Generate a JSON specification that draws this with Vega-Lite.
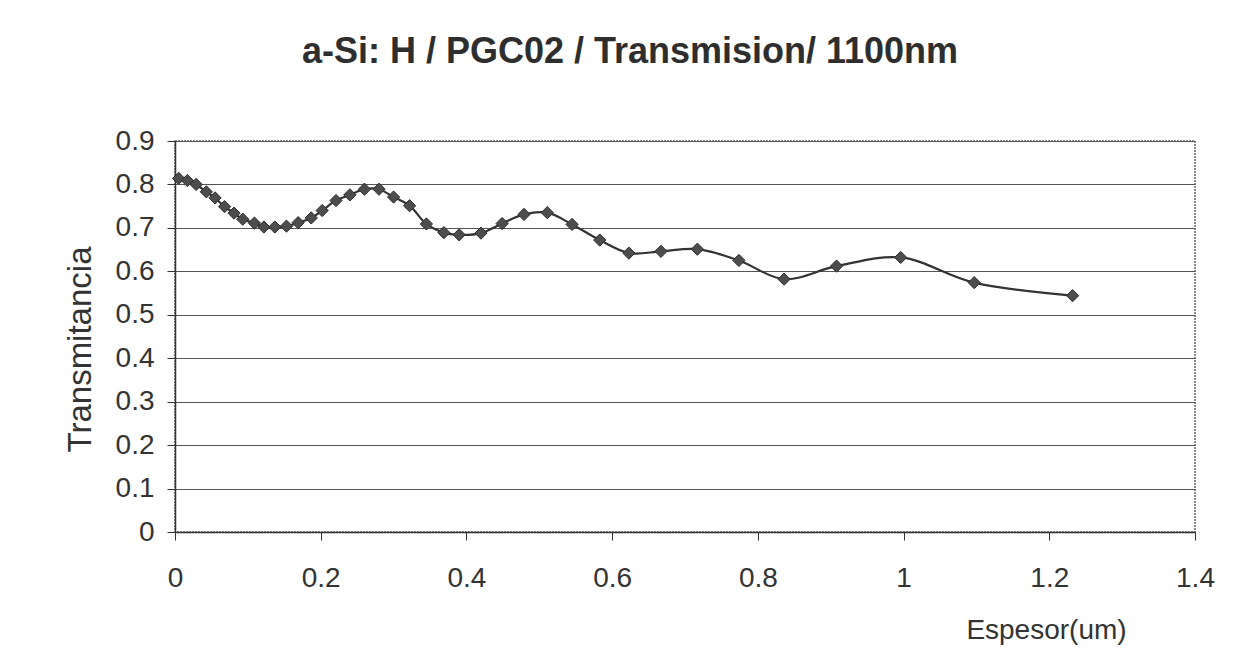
{
  "$schema": "https://vega.github.io/schema/vega-lite/v6.json",
  "width": 1020,
  "height": 391,
  "autosize": {"type": "none"},
  "padding": {"left": 175, "top": 141, "right": 47, "bottom": 133},
  "background": "white",
  "title": {
    "text": "a-Si: H / PGC02 / Transmision/ 1100nm",
    "font": "Liberation Sans",
    "fontSize": 36,
    "fontWeight": "bold",
    "color": "#2e2e2e",
    "anchor": "middle",
    "frame": "group",
    "baseline": "alphabetic",
    "offset": 28,
    "dx": -55
  },
  "config": {
    "font": "Liberation Sans",
    "view": {"stroke": "#666666", "strokeWidth": 1.5, "strokeDash": [2, 1]}
  },
  "data": {
    "values": [
      {"espesor": 0.005, "transmitancia": 0.814},
      {"espesor": 0.017, "transmitancia": 0.809},
      {"espesor": 0.029, "transmitancia": 0.800},
      {"espesor": 0.043, "transmitancia": 0.783},
      {"espesor": 0.055, "transmitancia": 0.769},
      {"espesor": 0.068, "transmitancia": 0.749},
      {"espesor": 0.081, "transmitancia": 0.734},
      {"espesor": 0.093, "transmitancia": 0.720},
      {"espesor": 0.109, "transmitancia": 0.711},
      {"espesor": 0.122, "transmitancia": 0.702},
      {"espesor": 0.137, "transmitancia": 0.702},
      {"espesor": 0.153, "transmitancia": 0.704},
      {"espesor": 0.169, "transmitancia": 0.712},
      {"espesor": 0.187, "transmitancia": 0.723},
      {"espesor": 0.202, "transmitancia": 0.740},
      {"espesor": 0.221, "transmitancia": 0.763},
      {"espesor": 0.240, "transmitancia": 0.776},
      {"espesor": 0.260, "transmitancia": 0.789},
      {"espesor": 0.280, "transmitancia": 0.789},
      {"espesor": 0.300, "transmitancia": 0.771},
      {"espesor": 0.322, "transmitancia": 0.751},
      {"espesor": 0.345, "transmitancia": 0.709},
      {"espesor": 0.369, "transmitancia": 0.689},
      {"espesor": 0.390, "transmitancia": 0.684},
      {"espesor": 0.420, "transmitancia": 0.688},
      {"espesor": 0.449, "transmitancia": 0.710},
      {"espesor": 0.479, "transmitancia": 0.731},
      {"espesor": 0.511, "transmitancia": 0.735},
      {"espesor": 0.545, "transmitancia": 0.708},
      {"espesor": 0.583, "transmitancia": 0.672},
      {"espesor": 0.623, "transmitancia": 0.642},
      {"espesor": 0.667, "transmitancia": 0.646},
      {"espesor": 0.717, "transmitancia": 0.651},
      {"espesor": 0.774, "transmitancia": 0.625},
      {"espesor": 0.836, "transmitancia": 0.582},
      {"espesor": 0.908, "transmitancia": 0.612},
      {"espesor": 0.996, "transmitancia": 0.632},
      {"espesor": 1.097, "transmitancia": 0.574},
      {"espesor": 1.232, "transmitancia": 0.544}
    ]
  },
  "encoding": {
    "x": {
      "field": "espesor",
      "type": "quantitative",
      "scale": {"domain": [0, 1.4], "nice": false, "zero": false},
      "axis": {
        "values": [0, 0.2, 0.4, 0.6, 0.8, 1, 1.2, 1.4],
        "format": "~g",
        "grid": false,
        "labelFlush": false,
        "domainColor": "#333333",
        "domainWidth": 1.5,
        "tickColor": "#333333",
        "tickSize": 8,
        "labelFontSize": 28,
        "labelColor": "#333333",
        "labelPadding": 24,
        "title": "Espesor(um)",
        "titleFontSize": 28,
        "titleFontWeight": "normal",
        "titleColor": "#333333",
        "titleX": 871,
        "titleY": 106,
        "titleAlign": "center",
        "titleBaseline": "alphabetic"
      }
    },
    "y": {
      "field": "transmitancia",
      "type": "quantitative",
      "scale": {"domain": [0, 0.9], "nice": false, "zero": false},
      "axis": {
        "values": [0, 0.1, 0.2, 0.3, 0.4, 0.5, 0.6, 0.7, 0.8, 0.9],
        "format": "~g",
        "grid": true,
        "gridColor": "#555555",
        "gridWidth": 1.2,
        "gridOpacity": 1,
        "labelFlush": false,
        "domainColor": "#333333",
        "domainWidth": 1.5,
        "tickColor": "#333333",
        "tickSize": 8,
        "labelFontSize": 28,
        "labelColor": "#333333",
        "labelPadding": 13,
        "title": "Transmitancia",
        "titleFontSize": 33,
        "titleFontWeight": "normal",
        "titleColor": "#333333",
        "titleX": -95,
        "titleY": 208,
        "titleAngle": -90,
        "titleAlign": "center",
        "titleBaseline": "middle"
      }
    }
  },
  "layer": [
    {
      "mark": {"type": "line", "interpolate": "catmull-rom", "color": "#333333", "strokeWidth": 2.2}
    },
    {
      "mark": {"type": "point", "shape": "diamond", "filled": true, "size": 150, "color": "#4d4d4d", "stroke": "#2e2e2e", "strokeWidth": 1, "opacity": 1}
    }
  ]
}
